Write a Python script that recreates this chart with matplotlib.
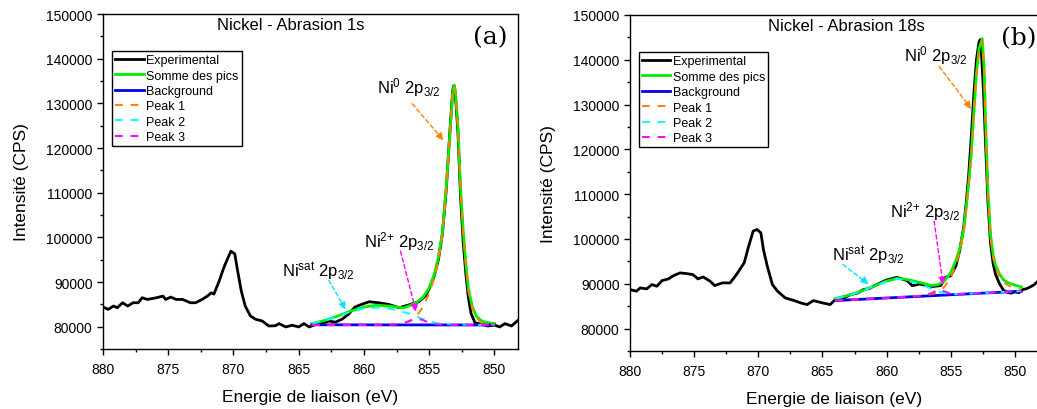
import matplotlib.pyplot as plt
from matplotlib.ticker import MultipleLocator

plt.rcParams['font.family'] = ['Liberation Sans', 'DejaVu Sans']
plt.rcParams['mathtext.fontset'] = 'custom'
plt.rcParams['mathtext.rm'] = 'Liberation Sans'
plt.rcParams['mathtext.it'] = 'Liberation Sans:italic'
plt.rcParams['mathtext.default'] = 'regular'

# ---- panel (a) : abrasion 1s
exp_e_a = [880.0, 879.6, 879.2, 878.9, 878.5, 878.1, 877.7, 877.3, 877.0, 876.6, 875.9, 875.4, 875.2,
           874.8, 874.4, 873.9, 873.3, 872.9, 872.4, 872.0, 871.7, 871.5, 871.1, 870.7, 870.2, 869.9,
           869.7, 869.4, 869.1, 868.7, 868.3, 867.8, 867.3, 866.8, 866.5, 866.0, 865.5, 865.0, 864.6,
           864.2, 863.6, 863.1, 862.7, 862.2, 861.7, 861.2, 860.7, 860.2, 859.6, 858.9, 858.1, 857.3,
           856.6, 855.8, 855.3, 855.0, 854.6, 854.3, 854.0, 853.7, 853.4, 853.2, 853.1, 853.0, 852.8,
           852.6, 852.4, 852.2, 852.0, 851.8, 851.5, 851.0, 850.5, 850.0, 849.6, 849.2, 848.7, 848.2]
exp_i_a = [84400, 83880, 84620, 84250, 85360, 84620, 85360, 85360, 86480, 86100, 86480, 86850, 86100,
           86630, 86100, 86100, 85360, 85360, 86100, 86850, 87590, 87300, 90200, 93540, 96890, 96300,
           92800, 87970, 84620, 82390, 81650, 81280, 80160, 80200, 80690, 79940, 80320, 79940, 80690,
           79940, 80600, 80900, 81270, 81000, 81640, 82750, 84390, 84980, 85580, 85360, 84980, 84240,
           84840, 85580, 86840, 88500, 91500, 95000, 100500, 110500, 124500, 133000, 134000, 132000, 123500,
           109000, 99000, 92000, 86500, 83000, 80900, 80530, 80160, 80380, 79940, 80680, 80160, 81420]

fit_e_a = [864.0, 863.0, 862.0, 861.0, 860.0, 859.0, 858.0, 857.5, 857.0, 856.5, 856.0, 855.5, 855.0,
           854.6, 854.3, 854.0, 853.7, 853.4, 853.2, 853.1, 853.0, 852.8, 852.6, 852.4, 852.2, 852.0,
           851.7, 851.4, 851.0, 850.5, 850.0]
sum_a = [80700, 81400, 82400, 83500, 84400, 84800, 84600, 84400, 84200, 84700, 85400, 86500, 88700,
         91800, 95500, 101000, 111000, 124000, 132500, 134100, 133000, 125000, 111000, 101500, 94500, 88500,
         84500, 82400, 81300, 80900, 80700]
p1_a = [80400, 80400, 80400, 80400, 80420, 80450, 80500, 80600, 80750, 81200, 82300, 84300, 87500,
        90900, 94700, 100300, 110400, 123500, 132000, 133700, 132600, 124600, 110600, 101100, 94100, 88100,
        84100, 82000, 80900, 80600, 80450]
p2_a = [80700, 81350, 82350, 83400, 84100, 84300, 84000, 83700, 83300, 82900, 82300, 81700, 81200,
        80900, 80750, 80650, 80600, 80550, 80520, 80510, 80500, 80480, 80460, 80450, 80440, 80430,
        80420, 80410, 80400, 80390, 80380]
p3_a = [80420, 80420, 80420, 80420, 80420, 80420, 80450, 80550, 80800, 81300, 81800, 81500, 80900,
        80600, 80500, 80450, 80430, 80420, 80410, 80400, 80400, 80400, 80400, 80400, 80390, 80390,
        80390, 80390, 80380, 80380, 80380]
bg_e_a = [864.0, 850.0]
bg_i_a = [80420, 80380]

# ---- panel (b) : abrasion 18s
exp_e_b = [880.0, 879.5, 879.2, 878.7, 878.3, 877.9, 877.5, 877.0, 876.6, 876.1, 875.6, 875.1, 874.7,
           874.3, 873.75, 873.4, 872.8, 872.2, 871.7, 871.1, 870.75, 870.4, 870.1, 869.8, 869.6, 869.3,
           868.9, 868.5, 868.2, 867.9, 867.2, 866.7, 866.2, 865.7, 865.0, 864.4, 864.0, 863.4, 862.8,
           862.3, 861.8, 861.3, 861.0, 860.5, 860.0, 859.2, 858.4, 858.0, 857.4, 856.6, 855.8, 855.4,
           855.0, 854.6, 854.3, 854.0, 853.8, 853.6, 853.4, 853.2, 853.0, 852.8, 852.7, 852.6, 852.45,
           852.3, 852.1, 851.9, 851.7, 851.5, 851.2, 850.9, 850.6, 850.3, 850.0, 849.7, 849.4, 849.1,
           848.8, 848.5, 848.2]
exp_i_b = [88710, 88340, 89080, 88860, 89820, 89450, 90720, 91090, 91830, 92430, 92280, 92060, 91090,
           91530, 90560, 89600, 90200, 90200, 92060, 94670, 98400, 101750, 102120, 101380, 97650, 93920,
           89820, 88340, 87590, 86850, 86250, 85730, 85360, 86250, 85730, 85360, 86480, 86700, 87600,
           87900, 88700, 89000, 89500, 90200, 90840, 91450, 90700, 89580, 89950, 89350, 89580, 91450,
           91820, 94000, 97500, 102500, 108000, 114500, 123000, 132500, 140000, 144000, 144500, 141000, 133000,
           122000, 108000, 99000, 94500, 92000, 90000, 88600, 88100, 87900, 88200, 88000, 88700, 88900,
           89300, 89800, 90600]

fit_e_b = [864.0, 863.0, 862.0, 861.0, 860.0, 859.2, 858.5, 858.0, 857.0, 856.5, 856.0, 855.5, 855.0,
           854.6, 854.3, 854.0, 853.8, 853.6, 853.4, 853.2, 853.0, 852.8, 852.55, 852.4, 852.3, 852.2,
           852.1, 851.9, 851.7, 851.5, 851.2, 850.9, 850.5, 850.0, 849.5]
sum_b = [86700, 87400, 88300, 89500, 90600, 91200, 91000, 90700, 90000, 89600, 89800, 90600, 92500,
         95200, 97800, 102000, 107000, 112500, 119000, 128500, 137000, 142500, 144700, 138000, 127500, 119000,
         110500, 101000, 96500, 94000, 92200, 90900, 90200, 89700, 89300]
p1_b = [86260, 86410, 86560, 86700, 86860, 86990, 87100, 87200, 87450, 87700, 88200, 89300, 91500,
        94300, 97000, 101300, 106400, 111900, 118400, 127900, 136400, 141900, 144100, 137400, 126900, 118400,
        109900, 100400, 95900, 93400, 91600, 90300, 89600, 89100, 88700]
p2_b = [86700, 87390, 88280, 89450, 90500, 91080, 90800, 90400, 89500, 88900, 88300, 87900, 87700,
        87680, 87690, 87720, 87750, 87780, 87810, 87840, 87870, 87900, 87940, 87960, 87980, 87990,
        88000, 88030, 88060, 88090, 88130, 88180, 88230, 88300, 88350]
p3_b = [86250, 86400, 86540, 86680, 86830, 86950, 87050, 87130, 87400, 87900, 88700, 88300, 87800,
        87650, 87660, 87700, 87730, 87760, 87790, 87820, 87850, 87880, 87910, 87930, 87950, 87960,
        87980, 88010, 88040, 88070, 88110, 88150, 88210, 88280, 88350]
bg_e_b = [864.0, 849.5]
bg_i_b = [86250, 88350]

labels = ['Experimental', 'Somme des pics', 'Background', 'Peak 1', 'Peak 2', 'Peak 3']

# annotations : (text, text x, text y, arrow start, arrow end, colour)
notes_a = [('Ni$^{0}$ 2p$_{3/2}$', 856.6, 132500, (856.3, 129900), (853.9, 121700), '#ff8000'),
           ('Ni$^{2{+}}$ 2p$_{3/2}$', 857.3, 98000, (857.2, 96900), (856.0, 83300), '#ff00ff'),
           ('Ni$^{sat}$ 2p$_{3/2}$', 863.5, 91300, (862.7, 90400), (861.4, 83800), '#00e5ff')]
notes_b = [('Ni$^{0}$ 2p$_{3/2}$', 856.2, 139800, (855.9, 138500), (853.4, 129000), '#ff8000'),
           ('Ni$^{2{+}}$ 2p$_{3/2}$', 857.0, 105100, (856.3, 104000), (855.6, 89800), '#ff00ff'),
           ('Ni$^{sat}$ 2p$_{3/2}$', 861.4, 95260, (863.4, 94300), (861.4, 89900), '#00e5ff')]


def draw_panel(ax, exp_e, exp_i, fit_e, fsum, bg_e, bg_i, p1, p2, p3,
               title, title_x, tag, tag_x, notes):
    l1, = ax.plot(exp_e, exp_i, color='black', lw=2)
    l2, = ax.plot(fit_e, fsum, color='#00ee00', lw=2)
    l3, = ax.plot(bg_e, bg_i, color='#0000ee', lw=2)
    l4, = ax.plot(fit_e, p1, color='#ff8000', lw=1.4, ls=(0, (4, 4)))
    l5, = ax.plot(fit_e, p2, color='#00ffff', lw=1.4, ls=(0, (4, 4)))
    l6, = ax.plot(fit_e, p3, color='#ff00ff', lw=1.4, ls=(0, (4, 4)))

    ax.set_xlim(880, 848.2)
    ax.set_ylim(75000, 150000)
    ax.xaxis.set_major_locator(MultipleLocator(5))
    ax.xaxis.set_minor_locator(MultipleLocator(2.5))
    ax.yaxis.set_minor_locator(MultipleLocator(5000))
    ax.set_yticks(range(80000, 150001, 10000))
    ax.tick_params(which='major', direction='out', length=4.5, width=1, labelsize=10, pad=3)
    ax.tick_params(axis='x', which='major', pad=5)
    ax.tick_params(which='minor', direction='out', length=2.5, width=1)
    for s in ax.spines.values():
        s.set_linewidth(1)

    ax.set_xlabel('Energie de liaison (eV)', fontsize=12.5, labelpad=9)
    ax.set_ylabel('Intensité (CPS)', fontsize=12.5, labelpad=12)
    ax.text(title_x, 0.968, title, transform=ax.transAxes, ha='center', va='center', fontsize=12)
    ax.text(tag_x, 0.933, tag, transform=ax.transAxes, ha='center', va='center',
            fontsize=18, family='DejaVu Serif')

    for txt, tx, ty, start, end, col in notes:
        ax.text(tx, ty, txt, ha='center', va='baseline', fontsize=12)
        ax.annotate('', xy=end, xytext=start,
                    arrowprops=dict(arrowstyle='-|>', color=col, lw=1, ls=(0, (3, 2)),
                                    mutation_scale=11, shrinkA=0, shrinkB=0))

    leg = ax.legend([l1, l2, l3, l4, l5, l6], labels, loc='upper left',
                    bbox_to_anchor=(0.021, 0.889), borderaxespad=0, fontsize=9,
                    handlelength=2.3, handletextpad=0.2, labelspacing=0.27,
                    borderpad=0.25, fancybox=False, framealpha=1, edgecolor='black')
    leg.get_frame().set_linewidth(1)


fig = plt.figure(figsize=(10.37, 4.10), dpi=100)
ax_a = fig.add_axes([0.0993, 0.1463, 0.4002, 0.8171])
ax_b = fig.add_axes([0.6075, 0.1415, 0.3935, 0.8195])

draw_panel(ax_a, exp_e_a, exp_i_a, fit_e_a, sum_a, bg_e_a, bg_i_a, p1_a, p2_a, p3_a,
           'Nickel - Abrasion 1s', 0.453, '(a)', 0.933, notes_a)
draw_panel(ax_b, exp_e_b, exp_i_b, fit_e_b, sum_b, bg_e_b, bg_i_b, p1_b, p2_b, p3_b,
           'Nickel - Abrasion 18s', 0.53, '(b)', 0.953, notes_b)

fig.savefig('out.png', dpi=100)
